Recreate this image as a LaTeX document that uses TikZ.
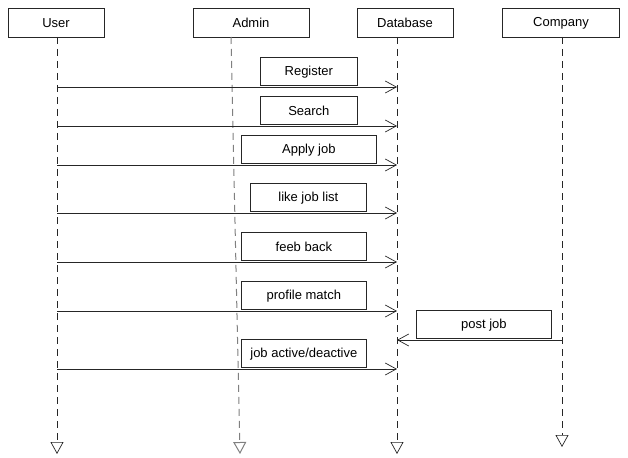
\documentclass[tikz,border=0pt]{standalone}
\usepackage{fontspec}
\setmainfont{Liberation Sans}
\usetikzlibrary{arrows.meta}

\begin{document}
\begin{tikzpicture}[x=1pt,y=-1pt,line width=0.7pt,draw=black!85,
                    font=\fontsize{13}{15}\selectfont,
                    actor/.style={draw,minimum height=29pt,inner sep=0pt},
                    msg/.style={draw,minimum height=28pt,inner sep=0pt,anchor=south west},
                    life/.style={dash pattern=on 7pt off 5pt,
                                 -{Triangle[open,length=12pt,width=13pt]}},
                    call/.style={-{Straight Barb[length=11pt,width=12pt]}}]
  \useasboundingbox (0,0) rectangle (628,457);

  \node[actor,minimum width=96pt]  (user)                                        at (56,23) {User};
  \node[actor,minimum width=116pt] (admin)   [right of=user,node distance=195pt]            {Admin};
  \node[actor,minimum width=96pt]  (db)      [right of=admin,node distance=154pt]           {Database};
  \node[actor,minimum width=117pt] (company) [right of=db,node distance=156pt]              {Company};

  % lifelines
  \coordinate (user top)    at (57,37);  \coordinate (user end)    at (57,454);
  \coordinate (admin top)   at (231,37); \coordinate (admin end)   at (240,454);
  \coordinate (db top)      at (397,37); \coordinate (db end)      at (397,454);
  \coordinate (company top) at (562,37); \coordinate (company end) at (562,447);

  \draw[life]                          (user top)    -- (user end);
  \draw[life,black!50,line width=1pt]  (admin top)   -- (admin end);
  \draw[life]                          (db top)      -- (db end);
  \draw[life]                          (company top) -- (company end);

  % user -> database
  \foreach \i/\y/\x/\w/\t in {1/87/260/97/Register,
                              2/126/260/97/Search,
                              3/165/241/135/Apply job,
                              4/213/250/116/like job list,
                              5/262/241/125/feeb back,
                              6/311/241/125/profile match,
                              7/369/241/125/{job active/deactive}}
  {
    \coordinate (u\i) at (57,\y);
    \coordinate (d\i) at (397,\y);
    \node[msg,minimum width=\w pt] (m\i) at (\x,\y-1) {\t};
    \draw[call] (u\i) -- (d\i);
  }

  % company -> database
  \coordinate (c8) at (562,340);
  \coordinate (d8) at (397,340);
  \node[msg,minimum width=135pt] (m8) at (416,339) {post job};
  \draw[call] (c8) -- (d8);
\end{tikzpicture}
\end{document}
